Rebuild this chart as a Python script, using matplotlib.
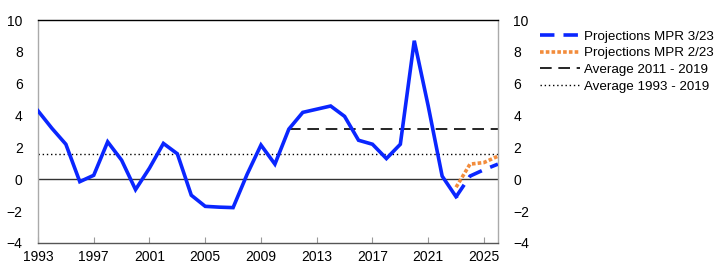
import numpy as np
import matplotlib.pyplot as plt

plt.rcParams['font.family'] = ['Liberation Sans', 'DejaVu Sans']

years = np.arange(1993, 2024)
values = [4.3, 3.2, 2.2, -0.15, 0.25, 2.35, 1.2, -0.65, 0.7, 2.25,
          1.6, -1.0, -1.7, -1.75, -1.78, 0.3, 2.15, 0.95, 3.15, 4.2,
          4.4, 4.6, 3.95, 2.45, 2.2, 1.3, 2.2, 8.7, 4.6, 0.2, -1.1]

proj_years = [2023, 2024, 2025, 2026]
mpr_3_23 = [-1.1, 0.2, 0.6, 0.95]
mpr_2_23 = [-0.5, 0.95, 1.05, 1.45]

avg_2011_2019 = 3.15
avg_1993_2019 = 1.58

fig = plt.figure(figsize=(7.22, 2.78), dpi=100)
ax = fig.add_axes([0.0526, 0.126, 0.637, 0.802])

ax.axhline(0, color='#333333', lw=1.0, zorder=1)
ax.plot(years, values, color='#0a26ff', lw=2.6, solid_joinstyle='miter', zorder=3)
ax.plot(proj_years, mpr_3_23, color='#0a26ff', lw=2.6, dashes=(4, 2.5),
        label='Projections MPR 3/23', zorder=4)
ax.plot(proj_years, mpr_2_23, color='#f28c3c', lw=2.6, dashes=(1, 0.6),
        label='Projections MPR 2/23', zorder=3)
ax.plot([2011, 2026], [avg_2011_2019] * 2, color='black', lw=1.2, dashes=(7, 4),
        label='Average 2011 - 2019', zorder=2)
ax.plot([1993, 2026], [avg_1993_2019] * 2, color='black', lw=1.0, dashes=(1, 2),
        label='Average 1993 - 2019', zorder=2)

ax.set_xlim(1993, 2026)
ax.set_ylim(-4, 10)
ax.set_xticks(range(1993, 2026, 4))
ax.set_yticks(range(-4, 11, 2))
ax.tick_params(axis='x', direction='in', length=4, color='#999999', labelsize=10, pad=5)
ax.tick_params(axis='y', length=0, labelsize=10, pad=11, labelright=True)

ax.spines['top'].set_color('black')
ax.spines['bottom'].set_color('#555555')
ax.spines['left'].set_color('#aaaaaa')
ax.spines['right'].set_color('#aaaaaa')
for s in ax.spines.values():
    s.set_linewidth(1.0)

ax.legend(loc='upper left', bbox_to_anchor=(1.079, 0.978), frameon=False,
          fontsize=9.6, handlelength=3.0, handletextpad=0.3, labelspacing=0.33,
          borderaxespad=0)

fig.savefig('out.png', dpi=100)
